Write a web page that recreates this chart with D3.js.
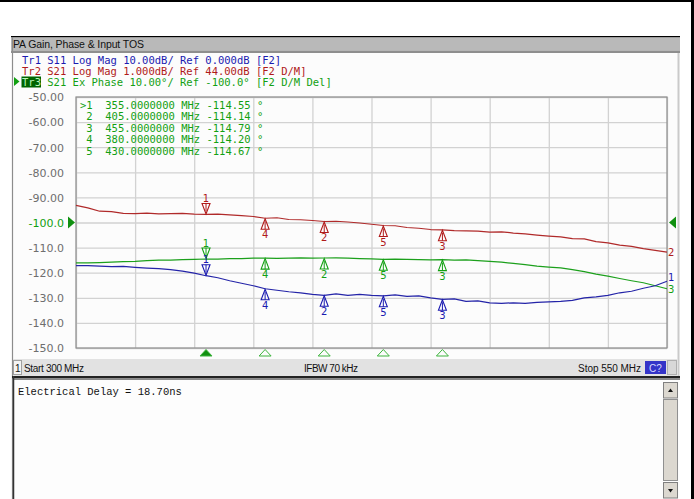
<!DOCTYPE html>
<html><head><meta charset="utf-8">
<script src="https://cdn.jsdelivr.net/npm/d3@7"></script>
<style>body{margin:0;background:#fff;overflow:hidden}</style>
</head><body>
<svg id="c" width="694" height="499"></svg>
<script>
// ---------- data ----------
const freqs = [300,305,310,315,320,325,330,335,340,345,350,355,360,365,370,375,380,385,390,395,400,405,410,415,420,425,430,435,440,445,450,455,460,465,470,475,480,485,490,495,500,505,510,515,520,525,530,535,540,545,550];
const s11Db = [-17.2,-17.2,-17.4,-17.6,-17.5,-17.9,-18.2,-18.4,-18.8,-19.4,-20.2,-21.2,-22.0,-23.2,-24.2,-25.2,-26.4,-27.0,-27.6,-28.0,-28.6,-29.0,-28.4,-29.0,-28.6,-29.0,-29.2,-28.8,-29.4,-29.2,-30.0,-30.6,-30.4,-31.4,-31.2,-32.0,-32.2,-32.0,-32.2,-31.8,-31.6,-31.4,-31.0,-30.0,-29.6,-29.0,-28.0,-27.4,-26.2,-25.2,-23.4];
const s21Db = [44.68,44.58,44.45,44.43,44.36,44.35,44.37,44.34,44.35,44.36,44.33,44.32,44.33,44.30,44.27,44.24,44.17,44.19,44.12,44.11,44.08,44.04,44.05,44.02,43.98,43.93,43.88,43.87,43.80,43.77,43.72,43.71,43.68,43.67,43.66,43.62,43.63,43.58,43.55,43.50,43.46,43.43,43.36,43.35,43.24,43.19,43.10,43.05,42.96,42.89,42.82];
const s21Phase = [-116.1,-116.1,-116.0,-115.8,-115.6,-115.5,-115.2,-115.0,-115.0,-114.8,-114.7,-114.55,-114.6,-114.4,-114.4,-114.2,-114.20,-114.3,-114.2,-114.1,-114.2,-114.14,-114.1,-114.2,-114.4,-114.5,-114.67,-114.6,-114.7,-114.8,-114.9,-114.79,-115.0,-114.9,-115.2,-115.5,-115.8,-116.3,-116.8,-117.4,-117.8,-118.1,-118.8,-119.6,-120.6,-121.4,-122.3,-123.2,-124.0,-125.2,-126.4];
const markerIds = [1,2,3,4,5];
const markerFreqs = [355,405,455,380,430];
const markerReadout = [-114.55,-114.14,-114.79,-114.20,-114.67];
const activeMarker = 1;
const xTickValues = [300,325,350,375,400,425,450,475,500,525,550];
const yTickValues = [-50,-60,-70,-80,-90,-100,-110,-120,-130,-140,-150];
const yTickLabels = ["-50.00","-60.00","-70.00","-80.00","-90.00","-100.0","-110.0","-120.0","-130.0","-140.0","-150.0"];
const refValue = -100;
const traceHeaders = [
  "Tr1 S11 Log Mag 10.00dB/ Ref 0.000dB [F2]",
  "Tr2 S21 Log Mag 1.000dB/ Ref 44.00dB [F2 D/M]",
  "Tr3 S21 Ex Phase 10.00°/ Ref -100.0° [F2 D/M Del]"
];
const titleText = "PA Gain, Phase & Input TOS";
const statusTexts = ["Start 300 MHz","IFBW 70 kHz","Stop 550 MHz"];
const noteText = "Electrical Delay = 18.70ns";

// ---------- colors ----------
const C1 = "#2424a8", C2 = "#b02a2a", C3 = "#1ca01c";
const T1 = "#1a1ab0", T2 = "#b01a1a", T3 = "#12a012";

const svg = d3.select("#c");
const mono = "'DejaVu Sans Mono', monospace";

// ---------- window chrome ----------
svg.append("rect").attr("x",0).attr("y",0).attr("width",694).attr("height",2).attr("fill","#000");
svg.append("rect").attr("x",691).attr("y",0).attr("width",3).attr("height",499).attr("fill","#000");
svg.append("rect").attr("x",11).attr("y",36).attr("width",669).attr("height",1.5).attr("fill","#000");
svg.append("rect").attr("x",11).attr("y",37.5).attr("width",669).attr("height",13).attr("fill","#b9b9b9");
svg.append("rect").attr("x",11).attr("y",50.5).attr("width",669).attr("height",2.5).attr("fill","#8e8e8e");
svg.append("rect").attr("x",12).attr("y",53).attr("width",667).attr("height",306).attr("fill","#fcfcfc");
svg.append("line").attr("x1",12.5).attr("x2",12.5).attr("y1",37).attr("y2",499).attr("stroke","#8c8c8c").attr("stroke-width",1.2);
svg.append("line").attr("x1",678.5).attr("x2",678.5).attr("y1",53).attr("y2",376).attr("stroke","#cacaca").attr("stroke-width",2);
svg.append("text").attr("x",13).attr("y",48).attr("font-family","'Liberation Sans', Arial, sans-serif")
  .attr("font-size",10.5).attr("textLength",131).attr("fill","#111").text(titleText);

// ---------- headers ----------
const hdrY = [64, 75, 86];
const hdrCol = [T1, T2, T3];
traceHeaders.forEach((t,i) => {
  if (i === 2) {
    svg.append("path").attr("d","M14,77 L19.5,81.5 L14,86 Z").attr("fill", T3);
    svg.append("rect").attr("x",21.5).attr("y",76.5).attr("width",19.5).attr("height",11).attr("fill","#006400");
    svg.append("text").attr("x",22).attr("y",hdrY[i]).attr("font-family",mono).attr("font-size",10.5)
      .attr("fill","#b8f5b8").text(t.slice(0,3));
    svg.append("text").attr("x",22 + 3*6.32).attr("y",hdrY[i]).attr("font-family",mono).attr("font-size",10.5)
      .attr("fill",hdrCol[i]).style("white-space","pre").text(t.slice(3));
  } else {
    svg.append("text").attr("x",22).attr("y",hdrY[i]).attr("font-family",mono).attr("font-size",10.5)
      .attr("fill",hdrCol[i]).style("white-space","pre").text(t);
  }
});

// ---------- scales ----------
const X0 = 76, X1 = 667, Y0 = 97, Y1 = 348;
const x = d3.scaleLinear().domain([300,550]).range([X0,X1]);
const yPh = d3.scaleLinear().domain([-150,-50]).range([Y1,Y0]);
const yS21 = d3.scaleLinear().domain([39,49]).range([Y1,Y0]);
const yS11 = d3.scaleLinear().domain([-50,50]).range([Y1,Y0]);

// ---------- grid ----------
const gx = svg.append("g").attr("transform",`translate(0,${Y1})`)
  .call(d3.axisBottom(x).tickValues(xTickValues).tickSize(-(Y1-Y0)).tickFormat(""));
gx.select(".domain").remove();
gx.selectAll("line").attr("stroke","#d2d2d2").attr("stroke-width",1.3);
const gy = svg.append("g").attr("transform",`translate(${X0},0)`)
  .call(d3.axisLeft(yPh).tickValues(yTickValues).tickSize(-(X1-X0)).tickPadding(12)
    .tickFormat((d,i)=>yTickLabels[i]));
gy.select(".domain").remove();
gy.selectAll("line").attr("stroke","#d2d2d2").attr("stroke-width",1.3);
gy.selectAll("text").attr("font-family","'DejaVu Sans', sans-serif").attr("font-size",11)
  .attr("fill",d => d === refValue ? T3 : "#6e6e6e").attr("dy","0.35em");
svg.append("rect").attr("x",X0).attr("y",Y0).attr("width",X1-X0).attr("height",Y1-Y0)
  .attr("fill","none").attr("stroke","#8e8e8e").attr("stroke-width",1.2);

// reference arrows
const ry = yPh(refValue);
svg.append("path").attr("d",`M68,${ry-6} L75,${ry} L68,${ry+6} Z`).attr("fill","#109010");
svg.append("path").attr("d",`M676,${ry-6} L669,${ry} L676,${ry+6} Z`).attr("fill","#109010");

// ---------- traces ----------
const traces = [
  {vals:s21Db, y:yS21, col:C2, label:"2", lc:T2},
  {vals:s21Phase, y:yPh, col:C3, label:"3", lc:T3},
  {vals:s11Db, y:yS11, col:C1, label:"1", lc:T1}
];
const line = (tr) => d3.line().x((d,i)=>x(freqs[i])).y(d=>tr.y(d));
traces.forEach(tr => {
  svg.append("path").datum(tr.vals).attr("d", line(tr)).attr("fill","none")
    .attr("stroke",tr.col).attr("stroke-width",1.2).attr("stroke-linejoin","round");
});
// end labels
traces.forEach(tr => {
  const yv = tr.y(tr.vals[tr.vals.length-1]);
  const off = tr.label === "1" ? -1 : (tr.label === "3" ? 4 : 3.5);
  svg.append("text").attr("x",668).attr("y",yv+off+0.5).attr("font-family","'DejaVu Sans', sans-serif")
    .attr("font-size",10).attr("fill",tr.lc).text(tr.label);
});

// ---------- markers ----------
function drawMarker(fx, fy, id, col, active) {
  const g = svg.append("g");
  if (active) {
    g.append("path").attr("d",`M${fx-4},${fy-11} L${fx+4},${fy-11} L${fx},${fy-0.5} Z`)
      .attr("fill","#fff").attr("fill-opacity",0.6).attr("stroke",col).attr("stroke-width",1.1);
    g.append("line").attr("x1",fx).attr("x2",fx).attr("y1",fy-11).attr("y2",fy-3).attr("stroke",col).attr("stroke-width",1);
    g.append("text").attr("x",fx).attr("y",fy-12.5).attr("text-anchor","middle")
      .attr("font-family","'DejaVu Sans', sans-serif").attr("font-size",10).attr("fill",col).text(id);
  } else {
    g.append("path").attr("d",`M${fx-4},${fy+11} L${fx+4},${fy+11} L${fx},${fy+0.5} Z`)
      .attr("fill","#fff").attr("fill-opacity",0.6).attr("stroke",col).attr("stroke-width",1.1);
    g.append("line").attr("x1",fx).attr("x2",fx).attr("y1",fy+3).attr("y2",fy+11).attr("stroke",col).attr("stroke-width",1);
    g.append("text").attr("x",fx).attr("y",fy+20).attr("text-anchor","middle")
      .attr("font-family","'DejaVu Sans', sans-serif").attr("font-size",10).attr("fill",col).text(id);
  }
}
traces.forEach(tr => {
  markerIds.forEach((id,k) => {
    const idx = freqs.indexOf(markerFreqs[k]);
    drawMarker(x(markerFreqs[k]), tr.y(tr.vals[idx]), id, tr.lc, id === activeMarker);
  });
});

// stimulus triangles below plot
markerIds.forEach((id,k) => {
  const fx = x(markerFreqs[k]);
  svg.append("path").attr("d",`M${fx-6},356 L${fx+6},356 L${fx},349.5 Z`)
    .attr("fill", id === activeMarker ? "#109010" : "none")
    .attr("stroke","#3cb43c").attr("stroke-width",1);
});

// ---------- readout ----------
markerIds.forEach((id,k) => {
  const s = (id === activeMarker ? ">" : " ") + id + "  " + markerFreqs[k].toFixed(7) + " MHz " + markerReadout[k].toFixed(2) + " °";
  svg.append("text").attr("x",80).attr("y",108.5 + k*11.5).attr("font-family",mono).attr("font-size",10.5)
    .attr("fill",T3).style("white-space","pre").text(s);
});

// ---------- status bar ----------
svg.append("rect").attr("x",13).attr("y",359).attr("width",665).attr("height",17).attr("fill","#e2e2e2");
svg.append("rect").attr("x",13.5).attr("y",360.5).attr("width",8).attr("height",14).attr("fill","#f4f4f4").attr("stroke","#a0a0a0");
const sf = "'Liberation Sans', Arial, sans-serif";
svg.append("text").attr("x",15).attr("y",371.5).attr("font-family",sf).attr("font-size",10).attr("fill","#111").text("1");
svg.append("text").attr("x",24).attr("y",371.5).attr("font-family",sf).attr("font-size",10).attr("textLength",60).attr("fill","#111").text(statusTexts[0]);
svg.append("text").attr("x",304).attr("y",371.5).attr("font-family",sf).attr("font-size",10).attr("textLength",54).attr("fill","#111").text(statusTexts[1]);
svg.append("text").attr("x",578).attr("y",371.5).attr("font-family",sf).attr("font-size",10).attr("textLength",63).attr("fill","#111").text(statusTexts[2]);
svg.append("rect").attr("x",645).attr("y",361).attr("width",21).attr("height",13).attr("fill","#3434c8");
svg.append("text").attr("x",655.5).attr("y",371.5).attr("text-anchor","middle").attr("font-family",sf).attr("font-size",10).attr("fill","#d8d8ff").text("C?");
svg.append("rect").attr("x",667.5).attr("y",360.5).attr("width",9).attr("height",14).attr("fill","#d8d8d8").attr("stroke","#b0b0b0");

// ---------- text area ----------
svg.append("rect").attr("x",12).attr("y",376).attr("width",668).attr("height",2.5).attr("fill","#222");
svg.append("rect").attr("x",12).attr("y",378.5).attr("width",668).attr("height",1.5).attr("fill","#888");
svg.append("rect").attr("x",13).attr("y",380).attr("width",666).attr("height",119).attr("fill","#fdfdfd");
svg.append("line").attr("x1",13.5).attr("x2",13.5).attr("y1",376).attr("y2",499).attr("stroke","#333").attr("stroke-width",1.5);
svg.append("text").attr("x",18).attr("y",395).attr("font-family","'Liberation Mono', monospace").attr("font-size",10.5)
  .attr("fill","#111").style("white-space","pre").text(noteText);
// scrollbar
const sbx = 663;
svg.append("rect").attr("x",sbx+0.5).attr("y",382.5).attr("width",14).attr("height",15.5).attr("fill","#dcd8d0").attr("stroke","#808080");
svg.append("rect").attr("x",sbx+0.5).attr("y",399.5).attr("width",14).attr("height",81).attr("fill","#dcd8d0").attr("stroke","#909090");
svg.append("rect").attr("x",sbx+0.5).attr("y",482.5).attr("width",14).attr("height",15.5).attr("fill","#dcd8d0").attr("stroke","#808080");
svg.append("path").attr("d",`M${sbx+5},${392} L${sbx+10},${392} L${sbx+7.5},${388.5} Z`).attr("fill","#111");
svg.append("path").attr("d",`M${sbx+5},${489} L${sbx+10},${489} L${sbx+7.5},${492.5} Z`).attr("fill","#111");
</script>
</body></html>
